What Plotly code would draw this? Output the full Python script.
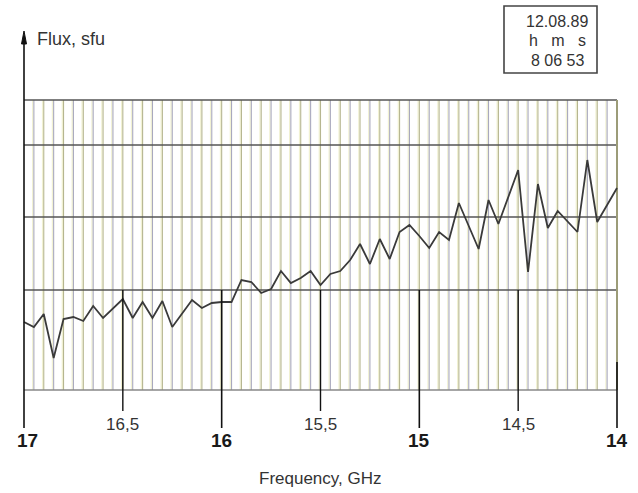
import numpy as np
import plotly.graph_objects as go

# ---- data ----
frequency_ghz = [17.00, 16.95, 16.90, 16.85, 16.80, 16.75, 16.70, 16.65, 16.60, 16.55,
                 16.50, 16.45, 16.40, 16.35, 16.30, 16.25, 16.20, 16.15, 16.10, 16.05,
                 16.00, 15.95, 15.90, 15.85, 15.80, 15.75, 15.70, 15.65, 15.60, 15.55,
                 15.50, 15.45, 15.40, 15.35, 15.30, 15.25, 15.20, 15.15, 15.10, 15.05,
                 15.00, 14.95, 14.90, 14.85, 14.80, 14.70, 14.65, 14.60, 14.50, 14.45,
                 14.40, 14.35, 14.30, 14.20, 14.15, 14.10, 14.00]
flux_sfu = [68, 63, 76, 32, 71, 73, 69, 84, 72, 82,
            91, 72, 88, 72, 89, 63, 76, 90, 82, 87,
            88, 88, 110, 108, 97, 101, 119, 107, 112, 119,
            105, 116, 119, 130, 146, 126, 151, 131, 158, 165,
            154, 142, 158, 150, 187, 141, 190, 166, 220, 118,
            206, 162, 179, 158, 230, 168, 202]

flux_gridlines = [0, 100, 173, 245, 290]
major_ticks = [17, 16, 15, 14]
major_labels = ["17", "16", "15", "14"]
minor_ticks = [16.5, 15.5, 14.5]
minor_labels = ["16,5", "15,5", "14,5"]
date_lines = ["12.08.89", "h   m   s", "8 06 53"]

# ---- geometry helpers (pixel -> data) ----
W, H = 638, 493
X17_PX, X14_PX = 24, 617
x_lo, x_hi = 17.0, 14.0
pxw = (X14_PX - X17_PX) / (x_lo - x_hi)


def px2x(px):
    return x_lo - (px - X17_PX) / pxw


def px2y(py):
    return 390 - py


FONT = "Liberation Sans, Arial, sans-serif"
shapes = []
annotations = []

# vertical grid lines
grid_x = np.round(np.arange(x_hi, x_lo + 1e-9, 0.05), 2)
for i, gx in enumerate(grid_x):
    if gx in (14.0, 17.0):
        continue
    shapes.append(dict(type="line", xref="x", yref="y", x0=gx + 1.2 / pxw, x1=gx + 1.2 / pxw,
                       y0=0, y1=290, line=dict(color="#f1f1d2", width=1.3), layer="below"))
    col = "#b6b690" if i % 2 == 0 else "#a9a9be"
    shapes.append(dict(type="line", xref="x", yref="y", x0=gx, x1=gx, y0=0, y1=290,
                       line=dict(color=col, width=1.1), layer="below"))

# horizontal grid lines
for gy in flux_gridlines:
    shapes.append(dict(type="line", xref="x", yref="y", x0=17, x1=14, y0=gy, y1=gy,
                       line=dict(color="#555555" if gy else "#888888", width=1.3), layer="below"))

# right border (14 GHz)
shapes.append(dict(type="line", xref="x", yref="y", x0=14, x1=14, y0=0, y1=290,
                   line=dict(color="#9c9c78", width=2), layer="below"))

# y axis with arrow
shapes.append(dict(type="line", xref="x", yref="y", x0=17, x1=17, y0=px2y(428), y1=px2y(40),
                   line=dict(color="#111111", width=1.6)))
aw = 2.5 / pxw
shapes.append(dict(type="path", xref="x", yref="y",
                   path=f"M {17 + aw} {px2y(44)} L 17 {px2y(31)} L {17 - aw} {px2y(44)} Z",
                   fillcolor="#111111", line=dict(color="#111111", width=1)))

# major tick lines
for t in major_ticks:
    if t == 17:
        continue
    top = px2y(362) if t == 14 else 100
    shapes.append(dict(type="line", xref="x", yref="y", x0=t, x1=t, y0=px2y(428), y1=top,
                       line=dict(color="#111111", width=1.6)))
for t in minor_ticks:
    shapes.append(dict(type="line", xref="x", yref="y", x0=t, x1=t, y0=px2y(411), y1=100,
                       line=dict(color="#111111", width=1.4)))

# tick labels
for t, lab in zip(major_ticks, major_labels):
    annotations.append(dict(x=t - (3 / pxw if t == 17 else 0), y=px2y(440), xref="x", yref="y",
                            text=f"<b>{lab}</b>", showarrow=False,
                            font=dict(family=FONT, size=19, color="#1a1a1a")))
for t, lab in zip(minor_ticks, minor_labels):
    annotations.append(dict(x=t, y=px2y(424), xref="x", yref="y", text=lab, showarrow=False,
                            font=dict(family=FONT, size=17, color="#333333")))

annotations.append(dict(x=px2x(320), y=px2y(478), xref="x", yref="y", text="Frequency, GHz",
                        showarrow=False, font=dict(family=FONT, size=17, color="#333333")))
annotations.append(dict(x=px2x(35), y=px2y(39), xref="x", yref="y", text="Flux, sfu",
                        showarrow=False, xanchor="left",
                        font=dict(family=FONT, size=18, color="#333333")))

# date / time box
shapes.append(dict(type="rect", xref="x", yref="y", x0=px2x(504), x1=px2x(597),
                   y0=px2y(6), y1=px2y(73), line=dict(color="#444444", width=1.6),
                   fillcolor="white"))
for k, txt in enumerate(date_lines):
    annotations.append(dict(x=px2x(557), y=px2y(21 + 19.5 * k), xref="x", yref="y", text=txt,
                            showarrow=False, borderpad=0,
                            font=dict(family=FONT, size=16, color="#333333")))

fig = go.Figure()
fig.add_trace(go.Scatter(x=frequency_ghz, y=flux_sfu, mode="lines",
                         line=dict(color="#3a3a3a", width=1.8), hoverinfo="skip"))

fig.update_layout(
    width=W, height=H,
    margin=dict(l=0, r=0, t=0, b=0, autoexpand=False),
    paper_bgcolor="white", plot_bgcolor="white",
    showlegend=False,
    xaxis=dict(range=[px2x(0), px2x(W)], visible=False, fixedrange=True),
    yaxis=dict(range=[px2y(H), px2y(0)], visible=False, fixedrange=True),
    shapes=shapes, annotations=annotations,
)

fig.write_html("out.html", post_script="document.body.style.margin='0px';",
               config={"displayModeBar": False})
